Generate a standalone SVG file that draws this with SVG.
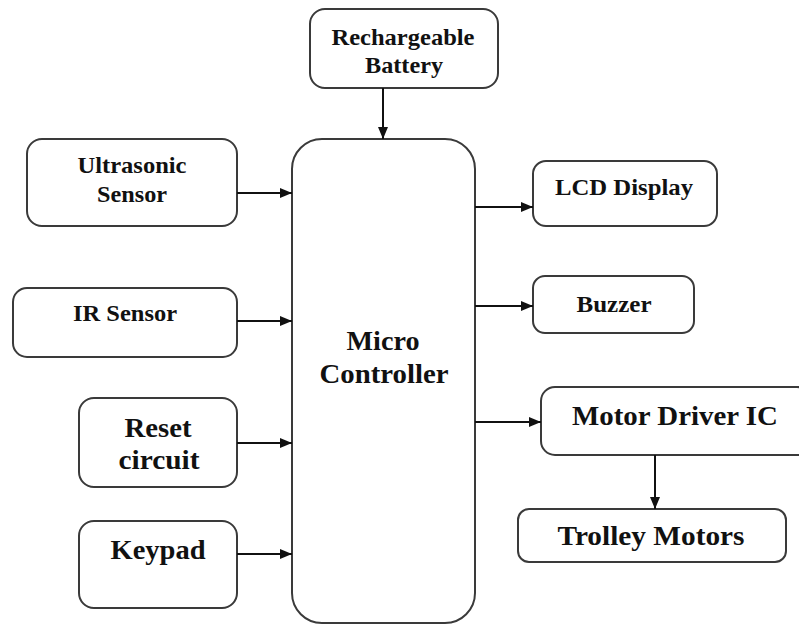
<svg xmlns="http://www.w3.org/2000/svg" width="799" height="625" viewBox="0 0 799 625">
<defs>
<marker id="ah" viewBox="0 0 12 10" refX="12" refY="5" markerWidth="12" markerHeight="10" markerUnits="userSpaceOnUse" orient="auto">
<path d="M0,0 L12,5 L0,10 Z" fill="#111"/>
</marker>
<style>
.box{fill:#fff;stroke:#3a3a3a;stroke-width:2}
.t{font-family:"Liberation Serif","Times New Roman",serif;font-weight:bold;fill:#111;text-anchor:middle}
.s{font-size:24px}
.l{font-size:27px}
.c line{stroke:#111;stroke-width:2;marker-end:url(#ah)}
</style>
</defs>
<rect width="799" height="625" fill="#fff"/>
<g id="battery">
<rect class="box" x="310" y="9" width="188" height="79" rx="15"/>
<text class="t s" x="403" y="45" textLength="143" lengthAdjust="spacingAndGlyphs">Rechargeable</text>
<text class="t s" x="404" y="73" textLength="78" lengthAdjust="spacingAndGlyphs">Battery</text>
</g>
<g id="ultrasonic">
<rect class="box" x="27" y="139" width="210" height="87" rx="15"/>
<text class="t s" x="132" y="173" textLength="109" lengthAdjust="spacingAndGlyphs">Ultrasonic</text>
<text class="t s" x="132" y="202" textLength="70" lengthAdjust="spacingAndGlyphs">Sensor</text>
</g>
<g id="ir">
<rect class="box" x="13" y="288" width="224" height="69" rx="14"/>
<text class="t s" x="125" y="321" textLength="104" lengthAdjust="spacingAndGlyphs">IR Sensor</text>
</g>
<g id="reset">
<rect class="box" x="79" y="398" width="158" height="89" rx="15"/>
<text class="t l" x="158" y="437" textLength="67" lengthAdjust="spacingAndGlyphs">Reset</text>
<text class="t l" x="159" y="469" textLength="81" lengthAdjust="spacingAndGlyphs">circuit</text>
</g>
<g id="keypad">
<rect class="box" x="79" y="521" width="158" height="87" rx="15"/>
<text class="t l" x="158" y="559" textLength="95" lengthAdjust="spacingAndGlyphs">Keypad</text>
</g>
<g id="mcu">
<rect class="box" x="292" y="139" width="183" height="484" rx="30"/>
<text class="t l" x="383" y="350" textLength="73" lengthAdjust="spacingAndGlyphs">Micro</text>
<text class="t l" x="384" y="383" textLength="129" lengthAdjust="spacingAndGlyphs">Controller</text>
</g>
<g id="lcd">
<rect class="box" x="533" y="161" width="184" height="65" rx="13"/>
<text class="t s" x="624" y="195" textLength="138" lengthAdjust="spacingAndGlyphs">LCD Display</text>
</g>
<g id="buzzer">
<rect class="box" x="533" y="276" width="161" height="57" rx="12"/>
<text class="t s" x="614" y="312" textLength="75" lengthAdjust="spacingAndGlyphs">Buzzer</text>
</g>
<g id="motordriver">
<rect class="box" x="541" y="387" width="270" height="68" rx="14"/>
<text class="t l" x="675" y="425" textLength="206" lengthAdjust="spacingAndGlyphs">Motor Driver IC</text>
</g>
<g id="trolley">
<rect class="box" x="518" y="509" width="268" height="53" rx="11"/>
<text class="t l" x="651" y="545" textLength="187" lengthAdjust="spacingAndGlyphs">Trolley Motors</text>
</g>
<g id="connectors" class="c">
<line x1="383" y1="88" x2="383" y2="139"/>
<line x1="237" y1="193" x2="292" y2="193"/>
<line x1="237" y1="321" x2="292" y2="321"/>
<line x1="237" y1="443" x2="292" y2="443"/>
<line x1="237" y1="554" x2="292" y2="554"/>
<line x1="475" y1="207" x2="533" y2="207"/>
<line x1="475" y1="306" x2="533" y2="306"/>
<line x1="475" y1="422" x2="541" y2="422"/>
<line x1="655" y1="455" x2="655" y2="509"/>
</g>
</svg>
